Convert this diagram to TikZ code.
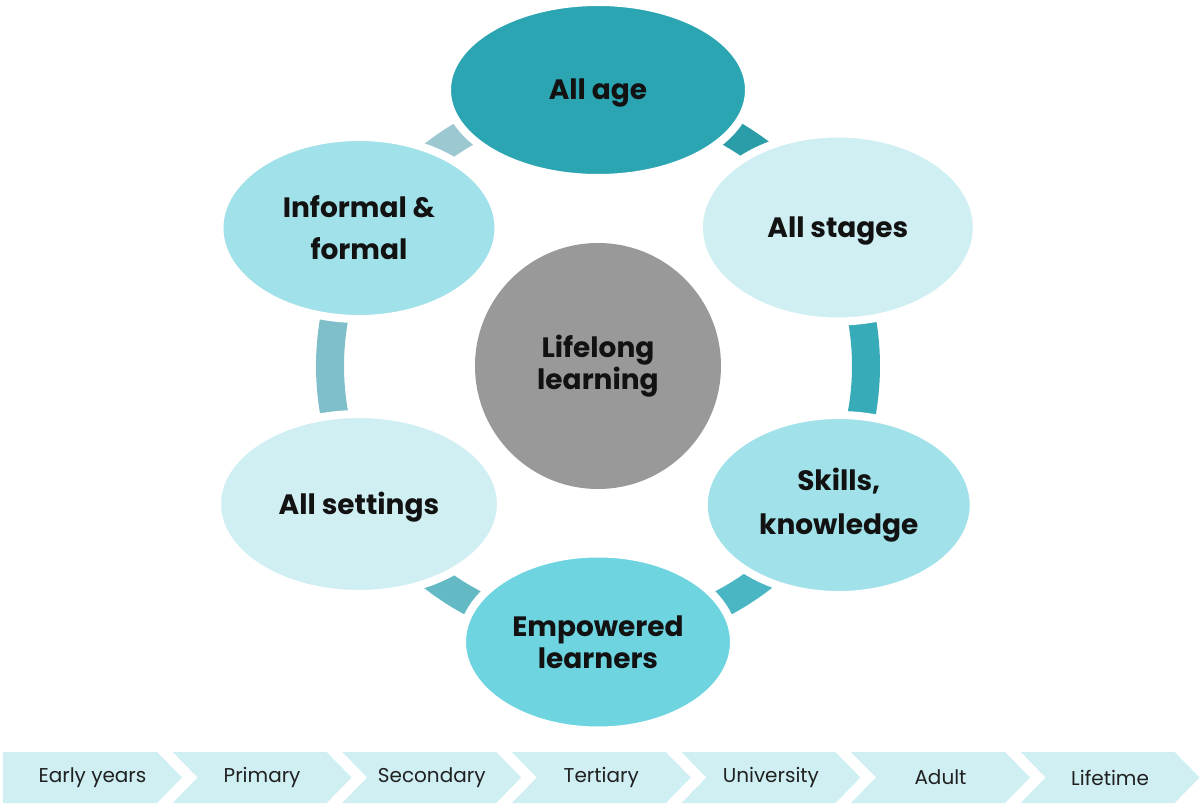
\documentclass[tikz,border=0pt]{standalone}
\usepackage{fontspec}
\setmainfont{Poppins}
\usetikzlibrary{shapes.geometric}

\definecolor{segA}{HTML}{2A9DA9}
\definecolor{segB}{HTML}{38ABB8}
\definecolor{segC}{HTML}{4AB6C3}
\definecolor{segD}{HTML}{63B9C4}
\definecolor{segE}{HTML}{7FBFC9}
\definecolor{segF}{HTML}{9CC9D1}
\definecolor{tealdark}{HTML}{2BA5B2}
\definecolor{tealpale}{HTML}{D0EFF3}
\definecolor{teallight}{HTML}{A0E1EA}
\definecolor{tealmid}{HTML}{6DD4E0}
\definecolor{hubgray}{HTML}{999999}
\definecolor{chevfill}{HTML}{CFEFF3}

\newcommand{\lowered}[1]{\raisebox{-3pt}[\height][\depth]{#1}}

\begin{document}
\begin{tikzpicture}[x=1pt, y=1pt,
    bubble/.style={ellipse, draw=white, line width=8pt, inner sep=0pt, align=center,
      font=\fontsize{28}{32}\selectfont\bfseries, text=black!93},
    hub/.style={circle, fill=hubgray, minimum size=246pt, inner sep=0pt, align=center,
      font=\fontsize{28}{32}\selectfont\bfseries, text=black!93},
    chev/.style={fill=chevfill},
    chevtext/.style={font=\fontsize{20}{22}\selectfont, text=black!87}]
  \useasboundingbox (-598,-442) rectangle (602,366);

  % ring segments
  \foreach \a/\b/\c in {30/90/segA, -30/30/segB, -90/-30/segC,
                        210/270/segD, 150/210/segE, 90/150/segF} {
    \fill[\c] (\a:254) arc[start angle=\a, end angle=\b, radius=254]
      -- (\b:282) arc[start angle=\b, end angle=\a, radius=282] -- cycle;
  }

  % bubbles
  \node[bubble, fill=tealdark, minimum width=302pt, minimum height=176pt] (age) at (90:276) {\lowered{All age}};
  \node[bubble, fill=tealpale, minimum width=278pt, minimum height=188pt] (stages) at (30:277) {\lowered{All stages}};
  \node[bubble, fill=teallight, minimum width=270pt, minimum height=180pt] (skills) at (-30:278) {Skills,\\[12pt]knowledge};
  \node[bubble, fill=tealmid, minimum width=272pt, minimum height=177pt] (learners) at (-90:276) {Empowered\\learners};
  \node[bubble, fill=tealpale, minimum width=284pt, minimum height=180pt] (settings) at (210:276) {\lowered{All settings}};
  \node[bubble, fill=teallight, minimum width=279pt, minimum height=182pt] (formal) at (150:276) {Informal \&\\[10pt]formal};

  % centre
  \node[hub] (life) at (0,0) {Lifelong\\learning};

  % stages along the bottom
  \foreach \t [count=\i from 0, evaluate=\i as \l using -595+169.6*\i] in
      {Early years, Primary, Secondary, Tertiary, University, Adult, Lifetime} {
    \ifnum\i=0
      \fill[chev] (\l,-386) -- ++(154,0) -- ++(25,-25.5) -- ++(-25,-25.5) -- ++(-154,0) -- cycle;
    \else
      \fill[chev] (\l,-386) -- ++(154,0) -- ++(25,-25.5) -- ++(-25,-25.5) -- ++(-154,0) -- ++(25,25.5) -- cycle;
    \fi
    \node[chevtext] (stage\i) at (\l+89.5,-411.5) {\t};
  }
\end{tikzpicture}
\end{document}
